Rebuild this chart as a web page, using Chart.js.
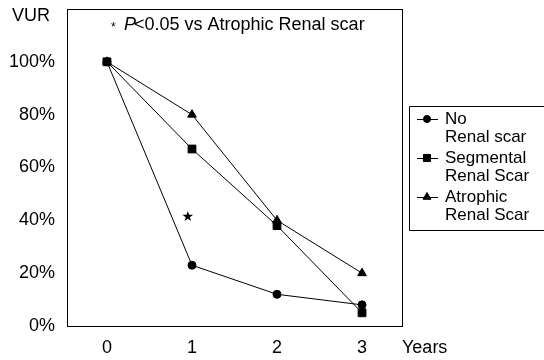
<!DOCTYPE html>
<html>
<head>
<meta charset="utf-8">
<script src="https://cdn.jsdelivr.net/npm/chart.js@4/dist/chart.umd.min.js"></script>
<style>
  html, body { margin: 0; padding: 0; background: #fff; }
  #wrap { width: 544px; height: 360px; position: relative; }
</style>
</head>
<body>
<div id="wrap"><canvas id="c" width="544" height="360"></canvas></div>
<script>
// ---- data ----
const years = [0, 1, 2, 3];
const noScar = [100, 23, 12, 8];
const segmentalScar = [100, 67, 38, 5];
const atrophicScar = [100, 80, 40, 20];
const yTicks = [0, 20, 40, 60, 80, 100];
const seriesNames = [['No', 'Renal scar'], ['Segmental', 'Renal Scar'], ['Atrophic', 'Renal Scar']];
const seriesMarkers = ['circle', 'rect', 'triangle'];
const yAxisTitle = 'VUR';
const xAxisTitle = 'Years';
const noteText = 'P<0.05 vs Atrophic Renal scar';
const starMark = { x: 0.95, y: 41 };

const FONT = 'Liberation Sans, Arial, sans-serif';
const FS = 18;
const LFS = 17;

function pts(arr) { return years.map((x, i) => ({ x: x, y: arr[i] })); }

const markerRadius = { circle: 4, rect: 5.5, triangle: 5 };
const datasets = [noScar, segmentalScar, atrophicScar].map((arr, i) => ({
  label: seriesNames[i].join(' '),
  data: pts(arr),
  borderColor: '#000',
  backgroundColor: '#000',
  borderWidth: 1,
  pointStyle: seriesMarkers[i],
  pointRadius: markerRadius[seriesMarkers[i]],
  pointBackgroundColor: '#000',
  pointBorderColor: '#000',
  pointBorderWidth: 1,
  tension: 0
}));

const extras = {
  id: 'extras',
  afterDraw(chart) {
    const ctx = chart.ctx;
    const a = chart.chartArea;
    const xs = chart.scales.x, ys = chart.scales.y;
    ctx.save();
    // plot frame
    ctx.strokeStyle = '#000';
    ctx.lineWidth = 1;
    ctx.strokeRect(Math.round(a.left) + 0.5, Math.round(a.top) + 0.5,
                   Math.round(a.right - a.left), Math.round(a.bottom - a.top));
    ctx.fillStyle = '#000';
    ctx.font = FS + 'px ' + FONT;
    ctx.textBaseline = 'middle';
    // y title
    ctx.textAlign = 'left';
    ctx.fillText(yAxisTitle, 12, 16);
    // x title
    ctx.fillText(xAxisTitle, 402, 348);
    // significance note
    ctx.font = '12px ' + FONT;
    ctx.fillText('*', 111, 28);
    ctx.font = 'italic ' + FS + 'px ' + FONT;
    ctx.fillText('P', 124, 25);
    const pw = ctx.measureText('P').width;
    ctx.font = FS + 'px ' + FONT;
    ctx.fillText(noteText.slice(1), 124 + pw - 2, 25);
    // star near No-scar year 1
    ctx.font = '14px DejaVu Sans, sans-serif';
    ctx.textAlign = 'center';
    ctx.fillText('\u2605', xs.getPixelForValue(starMark.x), ys.getPixelForValue(starMark.y));
    // legend
    const lx = 409, ltop = 106, lbottom = 230;
    ctx.strokeStyle = '#000';
    ctx.beginPath();
    ctx.moveTo(lx + 0.5, ltop + 0.5);
    ctx.lineTo(544, ltop + 0.5);
    ctx.moveTo(lx + 0.5, ltop + 0.5);
    ctx.lineTo(lx + 0.5, lbottom + 0.5);
    ctx.lineTo(544, lbottom + 0.5);
    ctx.stroke();
    const rows = [119, 158, 197];
    ctx.textAlign = 'left';
    ctx.font = LFS + 'px ' + FONT;
    chart.data.datasets.forEach((ds, i) => {
      const y = rows[i];
      ctx.beginPath();
      ctx.moveTo(417, y + 0.5);
      ctx.lineTo(438, y + 0.5);
      ctx.stroke();
      Chart.helpers.drawPoint(ctx, { pointStyle: ds.pointStyle, radius: ds.pointRadius - 0.5, borderWidth: 1 }, 427, y);
      ctx.fill();
      seriesNames[i].forEach((t, j) => ctx.fillText(t, 445, y + j * 18.5));
    });
    ctx.restore();
  }
};

new Chart(document.getElementById('c'), {
  type: 'line',
  data: { datasets: datasets },
  options: {
    responsive: false,
    animation: false,
    devicePixelRatio: 1,
    layout: { padding: { top: 9, right: 142, left: 0, bottom: 0 } },
    plugins: { legend: { display: false }, tooltip: { enabled: false } },
    scales: {
      x: {
        type: 'linear', min: -0.47, max: 3.47,
        afterBuildTicks: s => { s.ticks = years.map(v => ({ value: v })); },
        afterFit: s => { s.height = 34; s.paddingLeft = 0; s.paddingRight = 0; },
        grid: { display: false, drawTicks: false },
        border: { display: false },
        ticks: { color: '#000', font: { family: FONT, size: FS }, padding: 11, maxRotation: 0 }
      },
      y: {
        min: 0, max: 120,
        afterBuildTicks: s => { s.ticks = yTicks.map(v => ({ value: v })); },
        afterFit: s => { s.width = 67; s.paddingTop = 0; s.paddingBottom = 0; },
        grid: { display: false, drawTicks: false },
        border: { display: false },
        ticks: { color: '#000', font: { family: FONT, size: FS }, padding: 12, callback: v => v + '%' }
      }
    }
  },
  plugins: [extras]
});
</script>
</body>
</html>
